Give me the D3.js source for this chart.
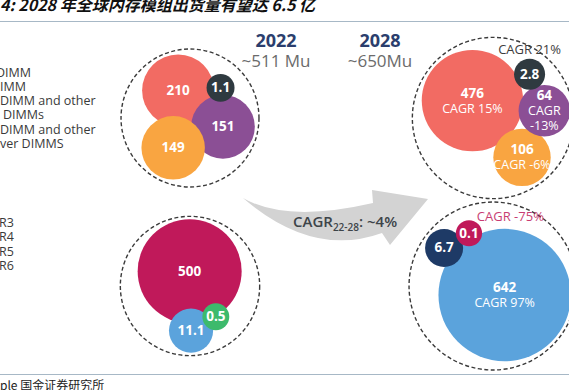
<!DOCTYPE html>
<html>
<head>
<meta charset="utf-8">
<script src="https://cdn.jsdelivr.net/npm/d3@7"></script>
<style>
  body { margin: 0; background: #fff; }
  svg { display: block; font-family: "Open Sans", sans-serif; }
</style>
</head>
<body>
<div id="chart"></div>
<script>
var titleText = "4: 2028 年全球内存模组出货量有望达 6.5 亿",
    sourceText = "ple  国金证券研究所";

var years = ["2022", "2028"],
    yearTotals = ["~511 Mu", "~650Mu"],
    segments = ["form", "ddr"];

// legend text, cut by the left edge of the page
var formLegend = ["DIMM", "IMM", "DIMM and other", "DIMMs", "DIMM and other", "ver DIMMS"];
var ddrLegend = ["R3", "R4", "R5", "R6"];

// module form factors (packing order)
var formColors = ["#f26b63", "#8b4f95", "#f9a541", "#2f3a40"];
var form2022 = [210, 151, 149, 1.1];
var form2028 = [476, 64, 106, 2.8];
var formCagr = ["CAGR 15%", "CAGR -13%", "CAGR -6%", "CAGR 21%"];

// DDR generations (packing order)
var ddrColors = ["#c0195a", "#3dba6c", "#5ba3dc", "#1e3a66"];
var ddr2022 = [500, 0.5, 11.1, 0];
var ddr2028 = [0.1, 0, 642, 6.7];
var ddrCagr = ["CAGR -75%", "", "CAGR 97%", ""];

var arrowText = ["CAGR", "22-28", ": ~4%"];

var W = 569, H = 390;

var svg = d3.select("#chart").append("svg")
    .attr("width", W)
    .attr("height", H);

// title + rules
svg.append("text")
    .attr("x", 0).attr("y", 11)
    .style("font-family", '"Noto Sans CJK SC", sans-serif')
    .style("font-weight", 700)
    .style("font-style", "italic")
    .style("font-size", "16px")
    .attr("fill", "#111")
    .text(titleText);

svg.append("line")
    .attr("x1", 0).attr("x2", W).attr("y1", 21.5).attr("y2", 21.5)
    .attr("stroke", "#a7b8c6");

svg.append("line")
    .attr("x1", 0).attr("x2", W).attr("y1", 374.5).attr("y2", 374.5)
    .attr("stroke", "#a7b8c6");

svg.append("text")
    .attr("x", 0).attr("y", 390)
    .style("font-family", '"Noto Sans CJK SC", sans-serif')
    .style("font-size", "12px")
    .attr("fill", "#222")
    .text(sourceText);

// year headers
var hx = d3.scalePoint().domain(years).range([276, 380]);

svg.selectAll(".year")
    .data(years)
    .enter().append("text")
    .attr("class", "year")
    .attr("x", function(d) { return hx(d); })
    .attr("y", 46.5)
    .attr("text-anchor", "middle")
    .style("font-size", "18px")
    .style("font-weight", 700)
    .attr("fill", "#2b3e6d")
    .text(function(d) { return d; });

svg.selectAll(".total")
    .data(yearTotals)
    .enter().append("text")
    .attr("class", "total")
    .attr("x", function(d, i) { return hx(years[i]); })
    .attr("y", 66.5)
    .attr("text-anchor", "middle")
    .style("font-size", "17px")
    .attr("fill", "#6b6b6b")
    .text(function(d) { return d; });

// legends
svg.selectAll(".flg")
    .data(formLegend)
    .enter().append("text")
    .attr("class", "flg")
    .attr("x", function(d, i) { return i === 0 ? -4 : (i === 3 ? 3 : 0); })
    .attr("y", function(d, i) { return 76.5 + i * 14.3; })
    .style("font-size", "12.5px")
    .attr("fill", "#3a3a3a")
    .text(function(d) { return d; });

svg.selectAll(".dlg")
    .data(ddrLegend)
    .enter().append("text")
    .attr("class", "dlg")
    .attr("x", -1)
    .attr("y", function(d, i) { return 226.5 + i * 14.6; })
    .style("font-size", "12.5px")
    .attr("fill", "#3a3a3a")
    .text(function(d) { return d; });

// growth arrow
var p = d3.path();
p.moveTo(243, 198);
p.quadraticCurveTo(286, 223, 373, 203);
p.lineTo(372, 190);
p.lineTo(428, 199);
p.lineTo(390, 245);
p.lineTo(382, 233);
p.quadraticCurveTo(313, 258, 243, 198);
p.closePath();

svg.append("path")
    .attr("d", p.toString())
    .attr("fill", "#d3d3d3");

var at = svg.append("text")
    .attr("x", 293).attr("y", 227)
    .style("font-size", "15px")
    .style("font-weight", 600)
    .attr("fill", "#3d4449");
at.append("tspan").text(arrowText[0]);
at.append("tspan").attr("dy", 4).style("font-size", "10px").text(arrowText[1]);
at.append("tspan").attr("dy", -4).text(arrowText[2]);

// bubbles
var rScale = d3.scaleLinear()
    .domain([0, 10, 210, 500, 650])
    .range([13, 22, 36, 52, 67]);

var px = d3.scalePoint().domain(years).range([190, 493]),
    py = d3.scalePoint().domain(segments).range([118, 286]);

// pack = how tight the siblings sit, rot = turn of the packed group (deg)
var panels = [
    {seg: "form", year: "2022", values: form2022, colors: formColors, cagr: null, pack: 0.85, rot: 39},
    {seg: "form", year: "2028", values: form2028, colors: formColors, cagr: formCagr, pack: 0.95, rot: 8},
    {seg: "ddr", year: "2022", values: ddr2022, colors: ddrColors, cagr: null, pack: 0.8, rot: 60},
    {seg: "ddr", year: "2028", values: ddr2028, colors: ddrColors, cagr: ddrCagr, pack: 0.9, rot: 60}
];

panels.forEach(function(pn) {
    var nodes = pn.values.map(function(v, i) {
        return {v: v, color: pn.colors[i], cagr: pn.cagr ? pn.cagr[i] : "", r: rScale(v) * pn.pack};
    }).filter(function(d) { return d.v > 0; });

    d3.packSiblings(nodes);

    var a = pn.rot * Math.PI / 180;
    nodes.forEach(function(d) {
        var x = d.x, y = d.y;
        d.x = x * Math.cos(a) - y * Math.sin(a);
        d.y = x * Math.sin(a) + y * Math.cos(a);
        d.r = rScale(d.v);
    });

    var ring = d3.packEnclose(nodes);

    var g = svg.append("g")
        .attr("transform", "translate(" + (px(pn.year) - ring.x) + "," + (py(pn.seg) - ring.y) + ")");

    g.append("circle")
        .attr("cx", ring.x).attr("cy", ring.y).attr("r", ring.r + 3)
        .attr("fill", "none")
        .attr("stroke", "#3a3a3a")
        .attr("stroke-width", 1.4)
        .attr("stroke-dasharray", "4,2.5");

    var sorted = nodes.slice().sort(function(a, b) { return b.r - a.r; });

    var bub = g.selectAll(".bub")
        .data(sorted)
        .enter().append("g")
        .attr("class", "bub")
        .attr("transform", function(d) { return "translate(" + d.x + "," + d.y + ")"; });

    bub.append("circle")
        .attr("r", function(d) { return d.r; })
        .attr("fill", function(d) { return d.color; });

    bub.each(function(d) {
        var el = d3.select(this);
        var inside = d.cagr && d.r >= 24;
        var lines = [String(d.v)];
        if (inside) {
            if (d.r < 27) lines = lines.concat(d.cagr.split(" "));
            else lines.push(d.cagr);
        }
        var y0 = -(lines.length - 1) * 7.5;
        lines.forEach(function(t, k) {
            el.append("text")
                .attr("y", y0 + k * 15 + 4.5)
                .attr("text-anchor", "middle")
                .style("font-size", k === 0 ? "13.5px" : "12.5px")
                .style("font-weight", k === 0 ? 700 : 400)
                .attr("fill", "#fff")
                .text(t);
        });
        if (d.cagr && !inside) {
            var above = pn.seg === "form";
            el.append("text")
                .attr("x", above ? 0 : d.r * 0.6)
                .attr("y", above ? -d.r - 5 : -d.r + 1)
                .attr("text-anchor", above ? "middle" : "start")
                .style("font-size", "13px")
                .attr("fill", above ? "#3d3d3d" : d.color)
                .attr("opacity", above ? 1 : 0.85)
                .text(d.cagr);
        }
    });
});
</script>
</body>
</html>
